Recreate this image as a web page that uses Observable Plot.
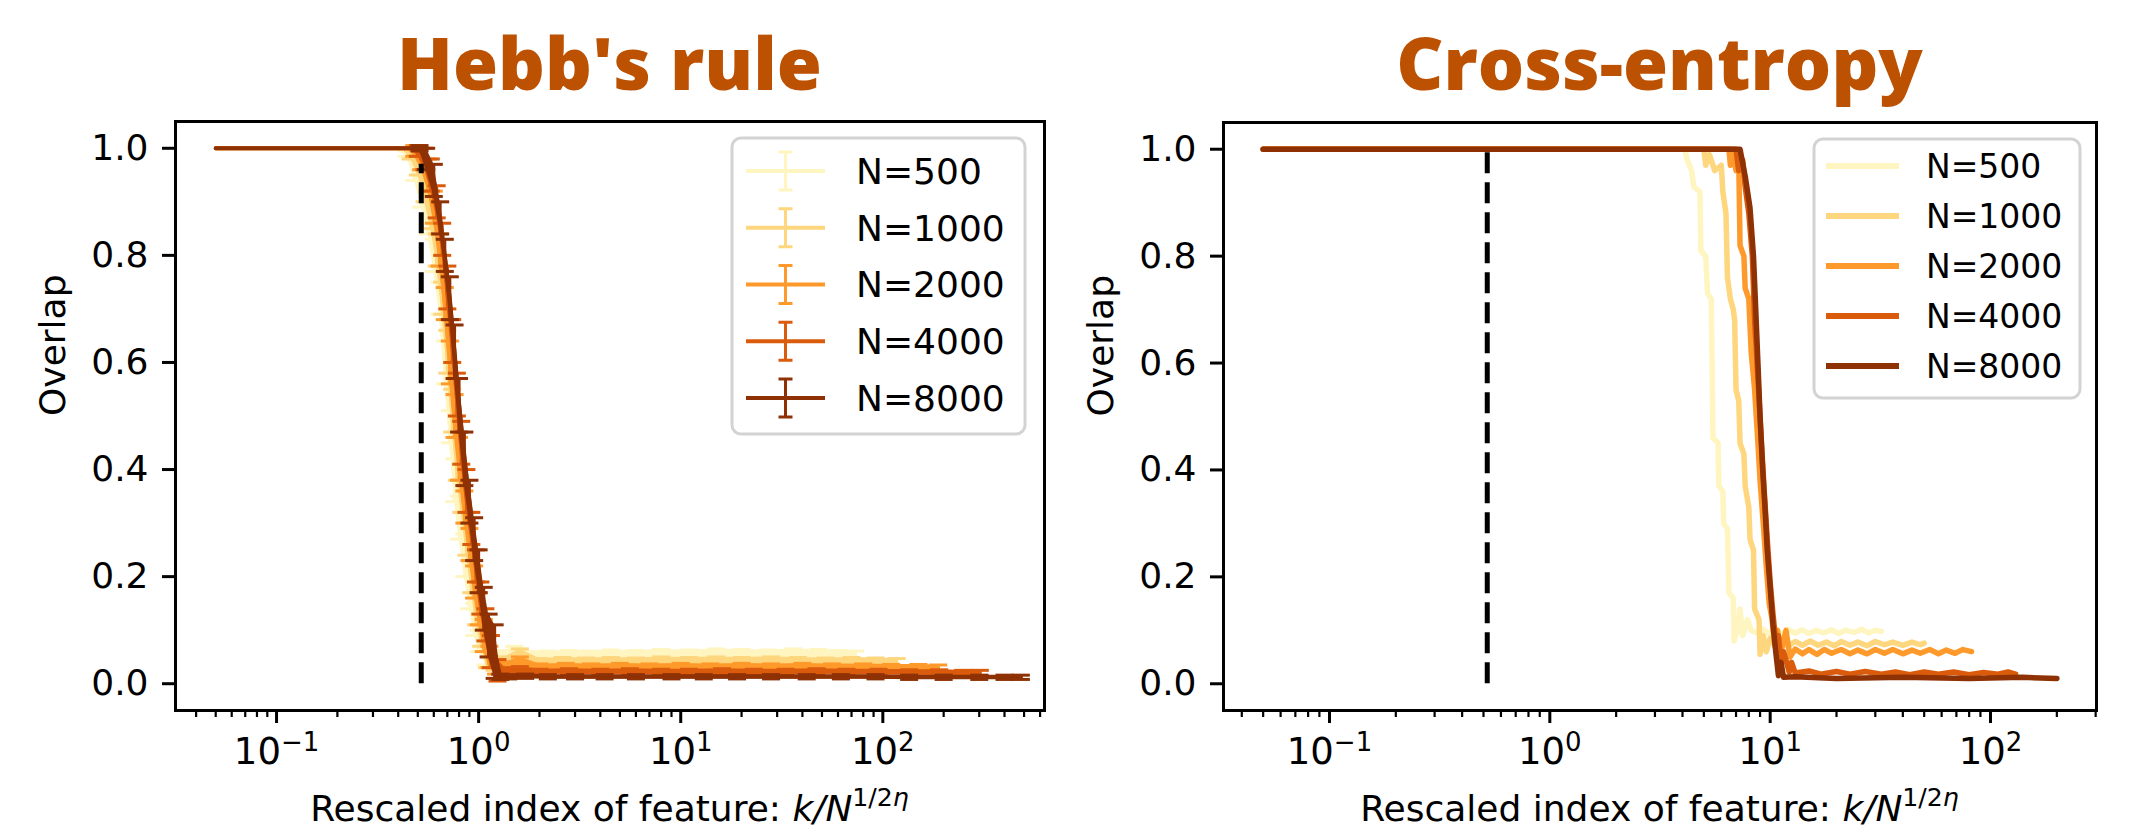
<!DOCTYPE html>
<html><head><meta charset="utf-8">
<script src="https://cdn.jsdelivr.net/npm/d3@7"></script>
<script src="https://cdn.jsdelivr.net/npm/@observablehq/plot@0.6"></script>
<style>
body{margin:0;background:#fff;}
#wrap{position:relative;width:2136px;height:828px;overflow:hidden;background:#fff;}
#left,#right{position:absolute;top:0;}
#left{left:0}#right{left:1068px}
</style></head><body><div id="wrap"><div id="left"></div><div id="right"></div></div>
<script>
// ---------- data ----------
const seriesN = [500, 1000, 2000, 4000, 8000];
const seriesLabels = ["N=500", "N=1000", "N=2000", "N=4000", "N=8000"];
const seriesColors = ["#fff5c0", "#fed67e", "#fe9a2b", "#da5b0c", "#8e3105"];
const titles = ["Hebb's rule", "Cross-entropy"];
const yTicks = [0, 0.2, 0.4, 0.6, 0.8, 1.0];
const xMajor = [0.1, 1, 10, 100];
const xMajorLabels = ["10⁻¹", "10⁰", "10¹", "10²"];
const xMajorExponents = ["−1", "0", "1", "2"];
const threshold = 0.52;

// Hebb's rule: [x, overlap, error]
const hebb500 = [[0.05,1,0],[0.1,1,0],[0.2,1,0],[0.3,1,0],[0.4,1,0],[0.44,0.99,0.005],[0.48,0.96,0.02],[0.52,0.92,0.03],[0.56,0.87,0.03],[0.6,0.8,0.03],[0.64,0.72,0.03],[0.68,0.6,0.04],[0.72,0.48,0.03],[0.76,0.38,0.04],[0.8,0.31,0.04],[0.85,0.24,0.04],[0.9,0.17,0.03],[0.95,0.12,0.03],[1.0,0.08,0.02],[1.08,0.05,0.015],[1.2,0.045,0.01],[1.35,0.05,0.012],[1.5,0.055,0.015],[1.8,0.05,0.01],[2.2,0.052,0.009],[2.8,0.054,0.008],[3.5,0.053,0.008],[4.5,0.055,0.008],[6,0.054,0.008],[8,0.056,0.008],[11,0.055,0.008],[15,0.057,0.008],[20,0.056,0.008],[27,0.055,0.008],[36,0.057,0.008],[48,0.056,0.008],[60,0.054,0.008],[73,0.053,0.008]];
const hebb1000 = [[0.05,1,0],[0.1,1,0],[0.2,1,0],[0.3,1,0],[0.42,1,0],[0.46,0.99,0.01],[0.5,0.97,0.02],[0.54,0.93,0.03],[0.58,0.88,0.03],[0.62,0.81,0.03],[0.66,0.72,0.03],[0.7,0.62,0.04],[0.74,0.51,0.04],[0.78,0.42,0.04],[0.82,0.35,0.03],[0.87,0.27,0.03],[0.92,0.2,0.03],[0.97,0.14,0.03],[1.03,0.09,0.02],[1.1,0.05,0.02],[1.2,0.035,0.01],[1.35,0.04,0.01],[1.6,0.045,0.02],[2,0.04,0.007],[2.6,0.042,0.007],[3.4,0.041,0.007],[4.5,0.042,0.007],[6,0.041,0.007],[8,0.043,0.007],[11,0.042,0.007],[15,0.043,0.007],[20,0.042,0.007],[28,0.043,0.007],[38,0.042,0.007],[52,0.041,0.007],[70,0.042,0.007],[92,0.041,0.007],[117,0.04,0.007]];
const hebb2000 = [[0.05,1,0],[0.1,1,0],[0.2,1,0],[0.3,1,0],[0.44,1,0],[0.48,0.995,0.01],[0.52,0.98,0.02],[0.56,0.95,0.03],[0.6,0.89,0.03],[0.64,0.81,0.03],[0.68,0.71,0.03],[0.72,0.6,0.04],[0.76,0.5,0.04],[0.8,0.42,0.04],[0.85,0.33,0.03],[0.9,0.26,0.03],[0.95,0.19,0.03],[1.0,0.14,0.03],[1.06,0.09,0.03],[1.13,0.05,0.02],[1.22,0.028,0.01],[1.35,0.03,0.01],[1.6,0.035,0.015],[2,0.031,0.006],[2.7,0.032,0.006],[3.6,0.031,0.006],[5,0.032,0.006],[7,0.031,0.006],[10,0.032,0.006],[14,0.031,0.006],[20,0.032,0.006],[28,0.031,0.006],[40,0.032,0.006],[56,0.031,0.006],[80,0.031,0.006],[110,0.03,0.006],[150,0.03,0.006],[188,0.029,0.006]];
const hebb4000 = [[0.05,1,0],[0.1,1,0],[0.2,1,0],[0.3,1,0],[0.46,1,0],[0.5,0.995,0.01],[0.54,0.98,0.02],[0.58,0.95,0.03],[0.62,0.9,0.03],[0.66,0.83,0.03],[0.7,0.74,0.04],[0.74,0.64,0.04],[0.78,0.54,0.04],[0.82,0.45,0.04],[0.87,0.36,0.04],[0.92,0.29,0.03],[0.97,0.22,0.03],[1.02,0.16,0.03],[1.08,0.11,0.03],[1.15,0.06,0.03],[1.24,0.025,0.02],[1.35,0.02,0.01],[1.6,0.024,0.008],[2,0.022,0.005],[2.8,0.023,0.005],[4,0.022,0.005],[5.6,0.023,0.005],[8,0.022,0.005],[11,0.022,0.005],[16,0.023,0.005],[23,0.022,0.005],[33,0.022,0.005],[47,0.023,0.005],[66,0.022,0.005],[95,0.022,0.005],[135,0.021,0.005],[190,0.021,0.005],[250,0.02,0.005],[302,0.02,0.005]];
const hebb8000 = [[0.05,1,0],[0.1,1,0],[0.2,1,0],[0.3,1,0],[0.47,1,0],[0.51,1,0.005],[0.55,0.98,0.02],[0.6,0.94,0.03],[0.645,0.87,0.03],[0.68,0.8,0.03],[0.72,0.72,0.04],[0.76,0.62,0.05],[0.8,0.52,0.05],[0.85,0.42,0.05],[0.9,0.34,0.04],[0.95,0.27,0.04],[1.0,0.21,0.04],[1.06,0.14,0.04],[1.12,0.09,0.04],[1.2,0.06,0.05],[1.28,0.013,0.005],[1.4,0.013,0.004],[1.7,0.014,0.004],[2.2,0.013,0.004],[3,0.013,0.004],[4.2,0.013,0.004],[6,0.013,0.004],[9,0.013,0.004],[13,0.013,0.004],[19,0.013,0.004],[28,0.013,0.004],[42,0.013,0.004],[62,0.013,0.004],[92,0.013,0.004],[135,0.012,0.004],[200,0.012,0.004],[300,0.012,0.004],[400,0.012,0.004],[482,0.012,0.004]];

// Cross-entropy: [x, overlap]
const cross500 = [[0.05,1],[4.1,1],[4.2,0.98],[4.4,0.96],[4.5,0.93],[4.8,0.92],[4.85,0.81],[5.1,0.8],[5.2,0.73],[5.4,0.72],[5.45,0.6],[5.5,0.46],[5.8,0.45],[5.85,0.37],[6.1,0.36],[6.15,0.3],[6.4,0.29],[6.5,0.17],[6.8,0.16],[6.85,0.08],[7.1,0.1],[7.3,0.14],[7.5,0.09],[7.9,0.12],[8.2,0.1],[8.7,0.095],[9.2,0.103],[9.8,0.094],[10.5,0.1],[11.3,0.093],[12,0.102],[13,0.095],[14,0.101],[15,0.094],[16.2,0.1],[17.5,0.095],[19,0.101],[20.5,0.094],[22,0.1],[24,0.096],[26,0.102],[28,0.095],[30,0.1],[32,0.098]];
const cross1000 = [[0.05,1],[5.0,1],[5.1,0.97],[5.3,0.99],[5.6,0.96],[6.0,0.97],[6.1,0.92],[6.3,0.88],[6.4,0.76],[6.6,0.72],[6.8,0.7],[6.9,0.68],[7.0,0.55],[7.2,0.53],[7.3,0.45],[7.6,0.43],[7.7,0.37],[8.0,0.33],[8.1,0.27],[8.4,0.25],[8.5,0.14],[8.9,0.12],[9.0,0.055],[9.3,0.09],[9.6,0.06],[10,0.085],[10.6,0.07],[11.3,0.08],[12,0.071],[13,0.079],[14,0.072],[15.2,0.08],[16.5,0.072],[18,0.078],[19.5,0.071],[21,0.079],[23,0.072],[25,0.078],[27.5,0.071],[30,0.079],[33,0.073],[36,0.078],[40,0.072],[44,0.078],[48,0.073],[50,0.076]];
const cross2000 = [[0.05,1],[6.5,1],[6.6,0.97],[6.8,0.99],[7.0,0.96],[7.2,0.98],[7.3,0.82],[7.6,0.8],[7.7,0.74],[8.0,0.72],[8.2,0.62],[8.5,0.55],[8.8,0.45],[9.0,0.38],[9.3,0.3],[9.6,0.22],[9.9,0.15],[10.2,0.12],[10.5,0.07],[10.8,0.1],[11.2,0.06],[11.8,0.1],[12.3,0.05],[13,0.065],[14,0.056],[15,0.064],[16.3,0.055],[17.6,0.064],[19,0.057],[21,0.064],[23,0.056],[25,0.063],[27.5,0.056],[30,0.064],[33,0.057],[36,0.064],[40,0.056],[44,0.063],[48,0.057],[53,0.064],[58,0.056],[63,0.063],[69,0.057],[75,0.064],[82,0.06]];
const cross4000 = [[0.05,1],[7.0,1],[7.2,0.96],[7.5,0.98],[7.7,0.93],[8.0,0.88],[8.3,0.8],[8.5,0.68],[8.8,0.57],[9.1,0.46],[9.4,0.36],[9.7,0.27],[10.0,0.19],[10.3,0.13],[10.6,0.08],[10.9,0.09],[11.2,0.04],[11.5,0.06],[12.2,0.022],[12.5,0.04],[13,0.02],[15,0.024],[17,0.018],[20,0.023],[23,0.018],[27,0.023],[32,0.018],[37,0.022],[43,0.017],[50,0.022],[58,0.018],[68,0.022],[80,0.017],[93,0.021],[108,0.018],[120,0.022],[130,0.018]];
const cross8000 = [[0.05,1],[7.3,1],[7.7,0.95],[8.1,0.89],[8.4,0.8],[8.6,0.7],[8.8,0.6],[9.0,0.5],[9.25,0.4],[9.5,0.32],[9.7,0.25],[10.0,0.18],[10.3,0.11],[10.6,0.06],[10.9,0.015],[11.2,0.04],[11.5,0.012],[13,0.013],[20,0.01],[40,0.012],[80,0.01],[140,0.012],[200,0.01]];

const hebbSeries = [hebb500, hebb1000, hebb2000, hebb4000, hebb8000];
const crossSeries = [cross500, cross1000, cross2000, cross4000, cross8000];

// ---------- helpers ----------
const FONT = "DejaVu Sans";
const majorLabel = new Map(xMajor.map((v, i) => [v, xMajorLabels[i]]));
const labelExponent = new Map(xMajorLabels.map((s, i) => [s, xMajorExponents[i]]));
function minorTicks(lo, hi) {
  const out = [];
  for (let p = -2; p <= 3; p++) for (let m = 2; m <= 9; m++) {
    const v = +(m * Math.pow(10, p)).toPrecision(6);
    if (v >= lo && v <= hi) out.push(v);
  }
  return out;
}
const capSymbol = {draw(ctx, size) { const r = Math.sqrt(size / Math.PI); ctx.moveTo(-r, 0); ctx.lineTo(r, 0); }};

function axes(xdom) {
  return [
    Plot.frame({stroke: "black", strokeWidth: 3}),
    Plot.axisY({ticks: yTicks, tickSize: 13, tickPadding: 14, tickFormat: d => d.toFixed(1), fontSize: 36, strokeWidth: 3, label: null}),
    Plot.axisX({ticks: xMajor, tickSize: 13, tickPadding: 14, tickFormat: d => majorLabel.get(d), fontSize: 37, strokeWidth: 3, label: null}),
    Plot.axisX({ticks: minorTicks(xdom[0], xdom[1]), tickSize: 7, tickFormat: () => "", strokeWidth: 2.2, label: null}),
    Plot.text(["Overlap"], {text: d => d, frameAnchor: "left", dx: -122, rotate: -90, fontSize: 36, fill: "black"})
  ];
}
// rewrite the power-of-ten tick labels with a real superscript
function superscriptTicks(svg) {
  d3.select(svg).selectAll("text").each(function() {
    const s = this.textContent;
    if (!labelExponent.has(s)) return;
    const t = d3.select(this);
    t.text(null);
    t.append("tspan").text("10");
    t.append("tspan").attr("font-size", 26).attr("dy", "-0.5em").text(labelExponent.get(s));
  });
}
function addTitle(svg, cx, text) {
  d3.select(svg).append("text").attr("x", cx).attr("y", 90).attr("text-anchor", "middle")
    .attr("font-family", "Open Sans").attr("font-weight", 800).attr("font-size", 73)
    .attr("fill", "#bd5102").text(text);
}
function addXLabel(svg, cx, y, fs) {
  const t = d3.select(svg).append("text").attr("x", cx).attr("y", y).attr("text-anchor", "middle")
    .attr("font-family", FONT).attr("font-size", fs).attr("fill", "black");
  t.append("tspan").text("Rescaled index of feature: ");
  t.append("tspan").attr("font-style", "italic").text("k/N");
  t.append("tspan").attr("font-size", fs * 0.7).attr("dy", -fs * 0.42).text("1/2");
  t.append("tspan").attr("font-size", fs * 0.7).attr("font-style", "italic").text("η");
}
function addLegend(svg, opt) {
  const g = d3.select(svg).append("g").attr("text-anchor", "start");
  g.append("rect").attr("x", opt.x).attr("y", opt.y).attr("width", opt.w).attr("height", opt.h)
    .attr("rx", 9).attr("fill", "white").attr("fill-opacity", 0.85).attr("stroke", "#d3d3d3").attr("stroke-width", 3);
  seriesLabels.forEach((lab, i) => {
    const cy = opt.row0 + i * opt.step;
    const c = seriesColors[i];
    g.append("line").attr("x1", opt.lx1).attr("x2", opt.lx2).attr("y1", cy).attr("y2", cy)
      .attr("stroke", c).attr("stroke-width", opt.lw);
    if (opt.err) {
      const mx = (opt.lx1 + opt.lx2) / 2;
      g.append("line").attr("x1", mx).attr("x2", mx).attr("y1", cy - 19).attr("y2", cy + 19).attr("stroke", c).attr("stroke-width", 3);
      g.append("line").attr("x1", mx - 7).attr("x2", mx + 7).attr("y1", cy - 19).attr("y2", cy - 19).attr("stroke", c).attr("stroke-width", 3);
      g.append("line").attr("x1", mx - 7).attr("x2", mx + 7).attr("y1", cy + 19).attr("y2", cy + 19).attr("stroke", c).attr("stroke-width", 3);
    }
    g.append("text").attr("x", opt.tx).attr("y", cy).attr("dy", "0.36em").attr("text-anchor", "start")
      .attr("font-family", FONT).attr("font-size", opt.fs).attr("fill", "black").text(lab);
  });
}

// ---------- left: Hebb's rule ----------
const hebbDom = [Math.pow(10, -1.5), Math.pow(10, 2.8)];
const hebbMarks = seriesLabels.flatMap((lab, i) => {
  const rows = hebbSeries[i].map(([x, y, e]) => ({x, y, e, lo: y - e, hi: y + e}));
  const eb = rows.filter(d => d.e > 0);
  const c = seriesColors[i];
  return [
    Plot.areaY(rows, {x: "x", y1: "lo", y2: "hi", fill: c}),
    Plot.line(rows, {x: "x", y: "y", stroke: c, strokeWidth: 4}),
    Plot.ruleX(eb, {x: "x", y1: "lo", y2: "hi", stroke: c, strokeWidth: 3}),
    Plot.dot(eb, {x: "x", y: "lo", symbol: capSymbol, r: 9, fill: "none", stroke: c, strokeWidth: 3}),
    Plot.dot(eb, {x: "x", y: "hi", symbol: capSymbol, r: 9, fill: "none", stroke: c, strokeWidth: 3})
  ];
});
const left = Plot.plot({
  width: 1068, height: 828,
  marginLeft: 175, marginRight: 24, marginTop: 121, marginBottom: 118,
  x: {type: "log", domain: hebbDom},
  y: {domain: [-0.05, 1.05]},
  style: {fontFamily: FONT, fontSize: "36px", background: "white", color: "black"},
  marks: [
    ...hebbMarks,
    Plot.ruleX([threshold], {x: d => d, y1: 0, y2: 0.97, stroke: "black", strokeWidth: 5, strokeDasharray: "21,9"}),
    ...axes(hebbDom)
  ]
});
document.getElementById("left").appendChild(left);
superscriptTicks(left);
addTitle(left, 609.5, titles[0]);
addXLabel(left, 609.5, 821, 36);
addLegend(left, {x: 732, y: 138, w: 293, h: 296, row0: 171, step: 56.75, lx1: 746, lx2: 825, lw: 4, tx: 856, fs: 36, err: true});

// ---------- right: Cross-entropy ----------
const crossDom = [Math.pow(10, -1.481), Math.pow(10, 2.481)];
const crossMarks = seriesLabels.map((lab, i) => {
  const rows = crossSeries[i].map(([x, y]) => ({x, y}));
  return Plot.line(rows, {x: "x", y: "y", stroke: seriesColors[i], strokeWidth: 5.5});
});
const right = Plot.plot({
  width: 1068, height: 828,
  marginLeft: 155, marginRight: 40, marginTop: 122, marginBottom: 118,
  x: {type: "log", domain: crossDom},
  y: {domain: [-0.05, 1.05]},
  style: {fontFamily: FONT, fontSize: "36px", background: "white", color: "black"},
  marks: [
    Plot.ruleX([threshold], {x: d => d, y1: 0, y2: 1, stroke: "black", strokeWidth: 5, strokeDasharray: "21,9"}),
    ...crossMarks,
    ...axes(crossDom)
  ]
});
document.getElementById("right").appendChild(right);
superscriptTicks(right);
addTitle(right, 591.5, titles[1]);
addXLabel(right, 591.5, 821, 36);
addLegend(right, {x: 746, y: 139, w: 266, h: 259, row0: 166, step: 50, lx1: 758, lx2: 831, lw: 6, tx: 858, fs: 33, err: false});
</script></body></html>
